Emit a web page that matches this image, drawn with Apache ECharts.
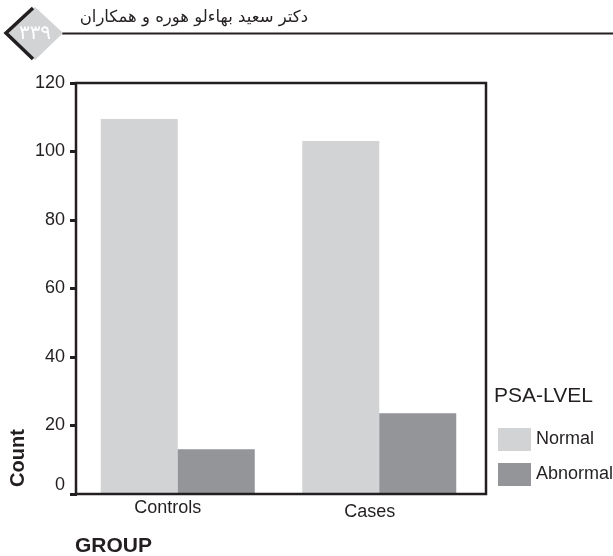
<!DOCTYPE html>
<html><head><meta charset="utf-8">
<style>html,body{margin:0;padding:0;background:#fff}#c{width:613px;height:556px}</style>
<script src="https://cdn.jsdelivr.net/npm/echarts@6/dist/echarts.min.js"></script>
</head><body><div id="c"></div>
<script>
const categories = ['Controls', 'Cases'];
const normalValues = [109.5, 103.1];
const abnormalValues = [13.1, 23.6];
const yTicks = [0, 20, 40, 60, 80, 100, 120];
const legendTitle = 'PSA-LVEL';
const seriesNames = ['Normal', 'Abnormal'];
const headerText = 'دکتر سعید بهاءلو هوره و همکاران';
const pageNumber = '۳۳۹';
const INK = '#231f20';
const FONT = '"Liberation Sans", Arial, sans-serif';
const chart = echarts.init(document.getElementById('c'), null, {renderer: 'canvas'});
chart.setOption({
  animation: false,
  backgroundColor: '#fff',
  grid: {left: 77, right: 133, top: 83, bottom: 62, show: false},
  legend: {
    left: 493, top: 423, orient: 'vertical', itemWidth: 33, itemHeight: 23, itemGap: 12,
    icon: 'rect', selectedMode: false,
    textStyle: {fontFamily: FONT, fontSize: 18, color: INK, padding: [0, 0, 7, 0]},
    data: seriesNames
  },
  xAxis: {
    type: 'category', data: categories,
    axisTick: {show: false},
    axisLine: {show: false},
    axisLabel: {
      margin: 5, fontFamily: FONT, fontSize: 18, color: INK,
      formatter: (v, i) => '{' + (i === 0 ? 'a' : 'b') + '|' + v + '}',
      rich: {
        a: {fontFamily: FONT, fontSize: 18, color: INK, padding: [0, 20, 0, 0]},
        b: {fontFamily: FONT, fontSize: 18, color: INK, padding: [4, 19, 0, 0]}
      }
    }
  },
  yAxis: {
    type: 'value', min: 0, max: 120, interval: 20,
    axisLine: {show: false},
    axisTick: {show: true, length: 7, lineStyle: {color: INK, width: 3}},
    splitLine: {show: false},
    axisLabel: {margin: 12, fontFamily: FONT, fontSize: 18, color: INK,
      formatter: v => yTicks.includes(v) ? (v === 0 ? '{z|0}' : String(v)) : '',
      rich: {z: {fontFamily: FONT, fontSize: 18, color: INK, padding: [0, 0, 17, 0]}}
    }
  },
  series: [
    {name: seriesNames[0], type: 'bar', data: normalValues, barWidth: 77, barGap: '0%', itemStyle: {color: '#d1d3d4'}},
    {name: seriesNames[1], type: 'bar', data: abnormalValues, barWidth: 77, barGap: '0%', itemStyle: {color: '#939598'}}
  ],
  graphic: [
    {type: 'rect', shape: {x: 76, y: 83, width: 410, height: 411}, style: {stroke: INK, lineWidth: 2.5, fill: null}, z: 10},
    {type: 'line', shape: {x1: 62, y1: 33.5, x2: 613, y2: 33.5}, style: {stroke: INK, lineWidth: 1.8}},
    {type: 'polygon', shape: {points: [[35, 7], [63, 33], [35, 60], [7, 33]]}, style: {fill: '#d1d3d4'}},
    {type: 'polyline', shape: {points: [[33, 8], [6, 33], [33, 59]]}, style: {stroke: INK, lineWidth: 3.5, fill: null}},
    {type: 'text', x: 35, y: 33, style: {text: pageNumber, fill: '#fff', font: '20px "Noto Sans", "DejaVu Sans", sans-serif', align: 'center', verticalAlign: 'middle'}},
    {type: 'text', x: 308, y: 18, style: {text: headerText, fill: INK, font: '16.5px "DejaVu Sans", "Noto Sans", sans-serif', align: 'right', verticalAlign: 'middle', direction: 'rtl'}},
    {type: 'text', x: 494, y: 396, style: {text: legendTitle, fill: INK, font: '21px ' + FONT, align: 'left', verticalAlign: 'middle'}},
    {type: 'text', x: 75, y: 546, style: {text: 'GROUP', fill: INK, font: 'bold 21px ' + FONT, align: 'left', verticalAlign: 'middle'}},
    {type: 'text', x: 18, y: 458, rotation: Math.PI / 2, style: {text: 'Count', fill: INK, font: 'bold 20px ' + FONT, align: 'center', verticalAlign: 'middle'}}
  ]
});
</script></body></html>
